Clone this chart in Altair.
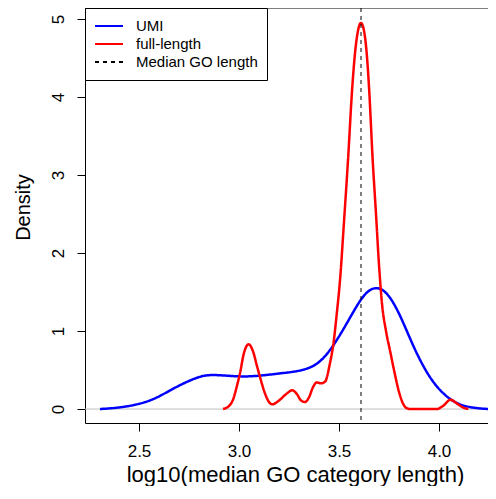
import altair as alt
import pandas as pd

# ---- data ----
umi_x = [2.305, 2.40, 2.505, 2.58, 2.655, 2.73, 2.805, 2.855, 2.93, 3.038, 3.15, 3.25,
         3.305, 3.37, 3.42, 3.47, 3.54, 3.605, 3.65, 3.688, 3.72, 3.75, 3.78, 3.82,
         3.87, 3.93, 3.988, 4.05, 4.105, 4.18, 4.255]
umi_y = [0.0, 0.015, 0.064, 0.13, 0.24, 0.34, 0.42, 0.44, 0.43, 0.41, 0.44, 0.47,
         0.49, 0.54, 0.64, 0.80, 1.10, 1.40, 1.53, 1.56, 1.53, 1.45, 1.33, 1.12,
         0.81, 0.50, 0.28, 0.13, 0.05, 0.01, 0.0]

fl_x = [2.92, 2.95, 2.97, 2.99, 3.005, 3.025, 3.048, 3.07, 3.09, 3.105, 3.13, 3.15,
        3.167, 3.185, 3.205, 3.235, 3.267, 3.29, 3.31, 3.33, 3.35, 3.37, 3.388, 3.41,
        3.43, 3.455, 3.47, 3.49, 3.505, 3.525, 3.545, 3.5665, 3.58, 3.595, 3.61, 3.625,
        3.6385, 3.65, 3.6685, 3.685, 3.70, 3.715, 3.735, 3.755, 3.775, 3.80, 3.82, 3.84,
        3.86, 3.99, 4.02, 4.058, 4.09, 4.12, 4.147]
fl_y = [0.0, 0.04, 0.12, 0.30, 0.46, 0.72, 0.83, 0.74, 0.55, 0.41, 0.20, 0.09,
        0.06, 0.08, 0.12, 0.19, 0.24, 0.19, 0.11, 0.09, 0.15, 0.28, 0.34, 0.33,
        0.35, 0.59, 0.80, 1.25, 1.65, 2.40, 3.19, 4.13, 4.56, 4.85, 4.95, 4.85,
        4.56, 4.13, 3.19, 2.50, 1.85, 1.35, 1.00, 0.75, 0.50, 0.22, 0.07, 0.01,
        0.0, 0.0, 0.04, 0.12, 0.07, 0.02, 0.0]

median_go = 3.61
series_names = ["UMI", "full-length", "Median GO length"]
series_colors = ["#0000FF", "#FF0000", "#000000"]
series_dash = [[1, 0], [1, 0], [4, 4]]
x_ticks = [2.5, 3.0, 3.5, 4.0]
y_ticks = [0, 1, 2, 3, 4, 5]
x_title = "log10(median GO category length)"
y_title = "Density"

umi = pd.DataFrame({"x": umi_x, "y": umi_y, "series": "UMI"})
fl = pd.DataFrame({"x": fl_x, "y": fl_y, "series": "full-length"})
med = pd.DataFrame({"x": [median_go], "series": ["Median GO length"]})
zero = pd.DataFrame({"y": [0]})

W, H = 403, 415
FONT = "Liberation Sans"

xscale = alt.Scale(domain=[2.23, 4.245], nice=False, zero=False)
yscale = alt.Scale(domain=[-0.179, 5.141], nice=False, zero=False)

xaxis = alt.Axis(values=x_ticks, format=".1f", tickSize=8, labelFontSize=17,
                 labelBaseline="alphabetic", labelPadding=25, grid=False,
                 title=x_title, titleFontSize=22, titleFontWeight="normal",
                 titleX=210, titleY=58, titleBaseline="alphabetic", titleAlign="center")
yaxis = alt.Axis(values=y_ticks, format="d", tickSize=8, labelFontSize=17,
                 labelAngle=270, labelAlign="center", labelBaseline="alphabetic",
                 labelPadding=14, grid=False,
                 title=y_title, titleFontSize=20, titleFontWeight="normal",
                 titleAngle=270, titleX=-62, titleY=199, titleBaseline="middle",
                 titleAlign="center")

color = alt.Color("series:N", scale=alt.Scale(domain=series_names, range=series_colors),
                  title=None)
dash = alt.StrokeDash("series:N", scale=alt.Scale(domain=series_names, range=series_dash),
                      title=None)

zero_line = alt.Chart(zero).mark_rule(color="#BEBEBE", strokeWidth=1).encode(
    y=alt.Y("y:Q", scale=yscale, axis=yaxis)
)

umi_line = alt.Chart(umi).mark_line(strokeWidth=2.5, interpolate="basis", clip=True).encode(
    x=alt.X("x:Q", scale=xscale, axis=xaxis),
    y=alt.Y("y:Q", scale=yscale, axis=yaxis),
    color=color, strokeDash=dash,
)
fl_line = alt.Chart(fl).mark_line(strokeWidth=2.5, interpolate="monotone", clip=True).encode(
    x=alt.X("x:Q", scale=xscale, axis=xaxis),
    y=alt.Y("y:Q", scale=yscale, axis=yaxis),
    color=color, strokeDash=dash,
)
med_line = alt.Chart(med).mark_rule(strokeWidth=1).encode(
    x=alt.X("x:Q", scale=xscale, axis=xaxis),
    color=color, strokeDash=dash,
)
top_border = alt.Chart(zero).mark_rule(color="black", strokeWidth=1).encode(
    x=alt.value(0), x2=alt.value(W), y=alt.value(0)
)

chart = alt.layer(zero_line, umi_line, fl_line, med_line, top_border).properties(
    width=W, height=H,
    padding={"left": 77, "top": 0, "right": 0, "bottom": 63},
    autosize=alt.AutoSizeParams(type="none"),
).configure_view(stroke=None).configure_axis(
    domainColor="black", tickColor="black", labelColor="black", titleColor="black",
    labelFont=FONT, titleFont=FONT, domainWidth=1, tickWidth=1,
).configure_legend(
    orient="none", legendX=0, legendY=0, strokeColor="black", fillColor="white",
    padding=9, symbolType="stroke", symbolSize=784, symbolStrokeWidth=2,
    clipHeight=18, labelFont=FONT, labelFontSize=15, labelColor="black",
    labelOffset=12, rowPadding=0, cornerRadius=0,
)

chart.save("out.html", embed_options={"renderer": "svg", "actions": False})
